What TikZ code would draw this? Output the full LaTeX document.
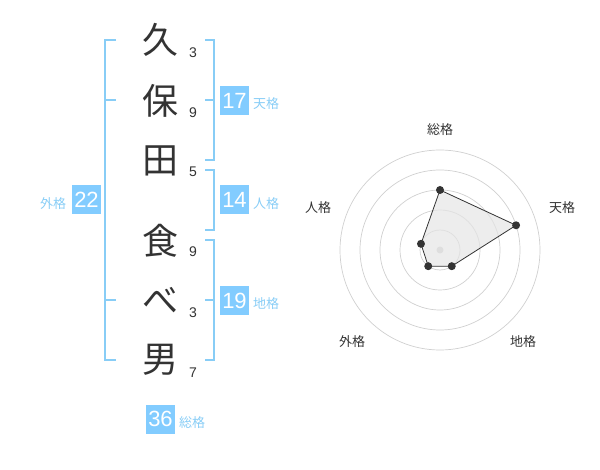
\documentclass[tikz,border=0pt]{standalone}
\usepackage{fontspec}
\setmainfont{Liberation Sans}
\newfontfamily\jpfont{Noto Sans CJK JP}
\definecolor{kakublue}{HTML}{82CCFF}
\definecolor{labelblue}{HTML}{88CDF6}
\definecolor{inkgray}{HTML}{333333}
\definecolor{ringgray}{HTML}{D0D0D0}
\tikzstyle{kanji} = [text=inkgray,inner sep=0pt,font=\jpfont\fontsize{36}{36}\selectfont]
\tikzstyle{strokenum} = [text=inkgray,inner sep=0pt,font=\fontsize{14}{14}\selectfont]
\tikzstyle{kakubox} = [fill=kakublue,text=white,minimum size=29pt,inner sep=0pt,font=\fontsize{22}{22}\selectfont]
\tikzstyle{kakulabel} = [text=labelblue,inner sep=0pt,font=\jpfont\fontsize{13}{13}\selectfont]
\tikzstyle{axislabel} = [text=inkgray,inner sep=0pt,font=\jpfont\fontsize{13}{13}\selectfont]
\tikzstyle{bracket} = [draw=labelblue,line width=1.8pt]

\begin{document}
\begin{tikzpicture}[x=1pt,y=-1pt]
\useasboundingbox (0,0) rectangle (600,470);
% name
\node[kanji] (c1) at (160,40) {久};
\node[kanji] (c2) at (160,101) {保};
\node[kanji] (c3) at (160,161) {田};
\node[kanji] (c4) at (160,241) {食};
\node[kanji] (c5) at (160,300) {べ};
\node[kanji] (c6) at (160,360) {男};
\node[strokenum] (s1) at (193,53) {3};
\node[strokenum] (s2) at (193,113) {9};
\node[strokenum] (s3) at (193,172) {5};
\node[strokenum] (s4) at (193,252) {9};
\node[strokenum] (s5) at (193,313) {3};
\node[strokenum] (s6) at (193,373) {7};
% brackets
\draw[bracket] (116,40) -| (105,360) -- (116,360);
\draw[bracket] (105,100) -- (116,100);
\draw[bracket] (105,300) -- (116,300);
\draw[bracket] (205,40) -| (214,160) -- (205,160);
\draw[bracket] (214,100) -- (205,100);
\draw[bracket] (205,170) -| (214,230) -- (205,230);
\draw[bracket] (205,240) -| (214,360) -- (205,360);
\draw[bracket] (214,300) -- (205,300);
% kaku
\node[kakubox] (ten) at (234.5,100.5) {17};
\node[kakulabel] (tenL) at (266,104) {天格};
\node[kakubox] (jin) at (234.5,200) {14};
\node[kakulabel] (jinL) at (266,204) {人格};
\node[kakubox] (chi) at (234.5,300.5) {19};
\node[kakulabel] (chiL) at (266,304) {地格};
\node[kakubox] (gai) at (86.5,200) {22};
\node[kakulabel] (gaiL) at (53,204) {外格};
\node[kakubox] (sou) at (160.5,419) {36};
\node[kakulabel] (souL) at (192,423) {総格};
% radar
\begin{scope}[shift={(440,250)},y=1pt]
\foreach \r in {20,40,60,80,100}
  \draw[ringgray,line width=0.7pt] (0,0) circle[radius=\r];
\fill[ringgray] (0,0) circle[radius=3.5];
\coordinate (pSou) at (90:60);
\coordinate (pTen) at (18:80);
\coordinate (pChi) at (-54:20);
\coordinate (pGai) at (-126:20);
\coordinate (pJin) at (162:20);
\filldraw[fill=black!10,fill opacity=0.7,draw=inkgray,line width=0.8pt]
  (pSou) -- (pTen) -- (pChi) -- (pGai) -- (pJin) -- cycle;
\foreach \p in {pSou,pTen,pChi,pGai,pJin}
  \fill[inkgray] (\p) circle[radius=4];
\end{scope}
\node[axislabel] (aSou) at (440,130) {総格};
\node[axislabel] (aTen) at (562,208) {天格};
\node[axislabel] (aChi) at (523,342) {地格};
\node[axislabel] (aGai) at (352,342) {外格};
\node[axislabel] (aJin) at (318,208) {人格};
\end{tikzpicture}
\end{document}
